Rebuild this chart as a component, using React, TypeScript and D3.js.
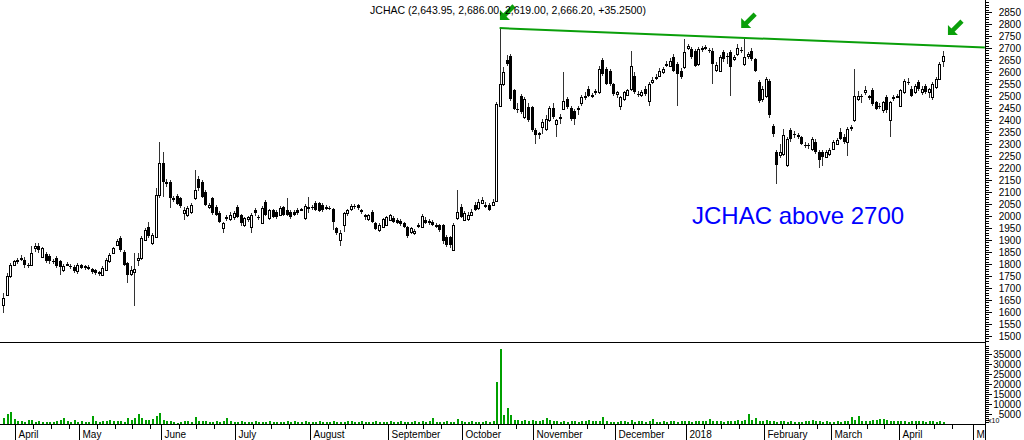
import React from 'react';
import * as d3 from 'd3';

// [open, high, low, close]
const candles: [number, number, number, number][] = [
  [1631,1679,1596,1659],[1672,1762,1665,1749],[1749,1804,1742,1797],[1797,1818,1790,1811],[1811,1825,1800,1815],
  [1825,1838,1812,1818],[1818,1830,1785,1797],[1797,1805,1783,1790],[1797,1873,1790,1845],[1866,1887,1852,1873],
  [1873,1887,1845,1859],[1831,1870,1825,1866],[1842,1850,1805,1811],[1833,1840,1800,1811],[1811,1820,1800,1807],
  [1825,1832,1785,1790],[1811,1815,1755,1787],[1773,1800,1765,1790],[1797,1808,1790,1800],[1790,1800,1780,1787],
  [1787,1795,1762,1769],[1769,1805,1760,1797],[1794,1800,1778,1783],[1790,1797,1776,1783],[1783,1795,1776,1787],
  [1779,1785,1760,1765],[1773,1780,1755,1762],[1765,1772,1750,1760],[1755,1790,1750,1783],[1776,1825,1770,1818],
  [1811,1845,1805,1838],[1845,1870,1840,1866],[1880,1905,1873,1894],[1907,1915,1852,1859],[1852,1859,1790,1797],
  [1804,1810,1721,1755],[1760,1790,1750,1776],[1765,1845,1624,1779],[1818,1845,1790,1825],[1825,1915,1818,1907],
  [1901,1950,1895,1942],[1956,1975,1910,1917],[1887,1930,1880,1921],[1914,2115,1907,2087],[2087,2309,2073,2219],
  [2219,2267,2080,2143],[2136,2156,2122,2143],[2143,2149,2032,2073],[2073,2085,2060,2067],[2083,2090,2045,2050],
  [2073,2080,2035,2042],[2014,2039,1984,2025],[2004,2040,1995,2032],[2018,2053,2010,2046],[2073,2191,2067,2108],
  [2156,2165,2105,2115],[2143,2150,2075,2080],[2101,2110,2040,2046],[2036,2055,2030,2046],[2073,2080,2005,2011],
  [2039,2045,2000,2004],[2011,2020,1970,1977],[1949,1975,1928,1970],[1990,2005,1980,1997],[1986,2015,1980,2004],
  [1995,2020,1985,2011],[2039,2045,1990,1997],[2004,2010,1960,1970],[1963,1995,1955,1990],[1986,2000,1975,1995],
  [1956,2011,1928,2004],[2025,2035,2000,2011],[1995,2005,1985,1990],[1970,2040,1965,2032],[2060,2068,1998,2004],
  [1990,2030,1985,2025],[2025,2030,1990,1995],[2018,2025,1988,1995],[2004,2040,2000,2032],[2036,2040,1998,2004],
  [2025,2073,1998,2004],[2018,2025,1988,1995],[2018,2024,1998,2004],[2025,2032,2005,2011],[2026,2035,2020,2030],
  [1990,2050,1985,2042],[2036,2080,2011,2039],[2039,2045,2025,2036],[2055,2062,2020,2025],[2053,2058,2018,2022],
  [2046,2055,2018,2025],[2032,2045,2025,2039],[2034,2040,2025,2030],[2028,2035,1942,1977],[1949,1955,1920,1928],
  [1901,1942,1873,1928],[1963,2015,1935,2011],[2011,2030,2000,2025],[2028,2050,2020,2042],[2042,2050,2030,2036],
  [2046,2052,2025,2032],[2025,2030,2010,2018],[2004,2010,1985,1995],[1986,2010,1980,2004],[2018,2025,1970,1977],
  [1970,1975,1940,1945],[1942,1970,1935,1963],[1956,1990,1950,1986],[1963,2000,1958,1997],[1984,2008,1978,2004],
  [1990,2000,1972,1977],[1984,1990,1965,1972],[1981,1988,1960,1967],[1970,1975,1948,1953],[1953,1958,1910,1917],
  [1935,1955,1925,1949],[1928,1945,1920,1939],[1963,1972,1950,1956],[1956,2010,1950,2000],[1984,1995,1965,1970],
  [1981,1988,1962,1970],[1977,1982,1958,1963],[1963,1970,1950,1956],[1963,1968,1935,1942],[1963,1968,1885,1894],
  [1914,1920,1870,1880],[1911,1915,1865,1880],[1859,1970,1855,1963],[1990,2108,1984,2018],[2039,2050,1990,1995],
  [1984,2020,1978,2011],[1986,2015,1980,2004],[2004,2030,1998,2018],[2046,2060,2020,2025],[2032,2070,2025,2060],
  [2055,2080,2048,2067],[2046,2060,2035,2046],[2046,2055,2020,2025],[2046,2070,2040,2060],[2062,2475,2058,2468],
  [2460,2783,2453,2550],[2550,2620,2540,2599],[2650,2670,2625,2633],[2668,2675,2480,2488],[2523,2530,2440,2447],
  [2447,2470,2430,2440],[2502,2510,2425,2433],[2412,2495,2405,2488],[2453,2470,2390,2398],[2453,2460,2350,2357],
  [2357,2365,2301,2336],[2340,2350,2320,2345],[2370,2405,2340,2391],[2363,2420,2355,2405],[2398,2460,2390,2451],
  [2451,2470,2405,2412],[2384,2405,2330,2398],[2410,2425,2385,2414],[2447,2599,2440,2481],[2488,2495,2445,2453],
  [2451,2458,2395,2405],[2437,2445,2380,2405],[2447,2460,2420,2451],[2470,2505,2460,2495],[2495,2515,2485,2502],
  [2530,2540,2495,2502],[2500,2512,2490,2504],[2516,2528,2505,2520],[2516,2625,2510,2612],[2650,2660,2585,2592],
  [2612,2620,2545,2550],[2606,2612,2540,2550],[2550,2555,2500,2509],[2508,2520,2490,2515],[2460,2500,2440,2495],
  [2488,2520,2480,2516],[2506,2530,2500,2523],[2530,2689,2520,2626],[2585,2600,2510,2516],[2510,2520,2495,2506],
  [2506,2525,2495,2515],[2530,2540,2500,2509],[2481,2560,2460,2550],[2560,2578,2550,2568],[2575,2590,2565,2580],
  [2585,2615,2578,2606],[2599,2620,2590,2612],[2630,2645,2620,2634],[2626,2660,2620,2647],[2664,2675,2600,2606],
  [2633,2640,2460,2592],[2606,2615,2570,2578],[2620,2737,2612,2682],[2702,2715,2690,2709],[2696,2705,2655,2661],
  [2689,2695,2620,2626],[2633,2705,2625,2696],[2696,2710,2685,2700],[2700,2712,2690,2704],[2690,2700,2680,2686],
  [2689,2700,2550,2633],[2610,2640,2600,2630],[2606,2670,2600,2661],[2682,2690,2640,2654],[2668,2680,2633,2661],
  [2682,2690,2502,2620],[2655,2670,2645,2661],[2675,2716,2665,2702],[2690,2705,2680,2689],[2633,2737,2625,2661],
  [2665,2685,2655,2675],[2689,2700,2645,2654],[2654,2660,2600,2606],[2557,2565,2470,2481],[2488,2540,2475,2530],
  [2502,2580,2490,2571],[2564,2570,2410,2419],[2377,2385,2330,2343],[2267,2275,2135,2211],[2253,2300,2240,2265],
  [2260,2363,2250,2336],[2211,2330,2205,2322],[2357,2365,2310,2322],[2343,2355,2325,2336],[2336,2345,2320,2329],
  [2329,2335,2295,2301],[2296,2310,2285,2294],[2294,2305,2280,2292],[2281,2330,2270,2322],[2308,2320,2260,2267],
  [2267,2275,2200,2232],[2267,2275,2210,2246],[2246,2275,2240,2267],[2260,2285,2250,2274],[2281,2315,2275,2308],
  [2301,2325,2295,2315],[2350,2365,2315,2322],[2329,2340,2300,2308],[2308,2370,2250,2363],[2365,2380,2355,2370],
  [2398,2612,2390,2502],[2488,2520,2480,2502],[2500,2510,2470,2495],[2516,2540,2505,2523],[2495,2505,2485,2500],
  [2523,2535,2460,2467],[2474,2480,2440,2447],[2460,2470,2445,2455],[2440,2480,2430,2474],[2495,2505,2430,2440],
  [2398,2480,2329,2474],[2490,2505,2480,2495],[2495,2510,2490,2502],[2460,2530,2455,2523],[2516,2570,2510,2564],
  [2560,2575,2545,2555],[2530,2540,2495,2502],[2516,2550,2510,2543],[2557,2565,2520,2530],[2516,2540,2505,2530],
  [2543,2550,2510,2516],[2516,2535,2490,2530],[2495,2560,2485,2550],[2537,2580,2530,2571],[2571,2640,2565,2633],
  [2643.95,2686,2619,2666.2],
];

const volumes: number[] = [
  3000,5000,6000,2500,1500,1500,1000,2000,2000,1000,
  1500,1000,1000,1000,1000,1500,2000,3000,1500,1000,
  2000,1000,1500,1000,1000,4000,1500,1000,1500,1500,
  2000,1500,1500,1500,1000,3000,2000,3000,5000,3000,
  2000,2000,2500,4000,5500,2000,1500,1500,1000,500,
  1000,1500,1500,1000,3500,1500,1500,1500,1000,1000,
  1500,1000,1500,3000,1500,1000,1000,1500,1000,1000,
  1000,1500,1000,1000,1000,1500,1000,1000,1000,1000,
  1500,1000,1500,1000,1000,1500,1000,1000,1000,1500,
  1000,1000,1000,1500,1000,1000,1000,1500,1500,1000,
  1000,1500,1000,1000,1000,1500,1000,1000,1000,1500,
  1000,1000,1500,1000,1000,1000,1500,1000,1500,1000,
  1500,3000,1000,1000,1000,1500,1000,1000,2500,1500,
  1000,1000,1500,1000,1000,1000,1500,1000,1500,21000,
  37500,4500,8000,4500,2000,2000,1500,2000,1500,2000,
  1500,1500,2000,3000,2000,1500,1500,1000,1500,1000,
  1500,1500,1000,1500,1500,2000,1500,1500,1500,3500,
  1500,1000,1000,1000,1500,1500,1000,2000,1000,1500,
  1500,1000,1500,2500,1000,1000,1500,1000,1500,1500,
  1000,1500,1500,1500,1000,1500,1500,1500,1500,2500,
  1500,1500,1500,1000,1500,1500,1500,2000,1500,2000,
  5000,2000,3000,1500,1500,2000,1500,1500,1000,1500,
  1500,1000,1500,1000,1000,1000,1500,1500,2000,1500,
  1500,1000,1500,1000,1000,1500,1000,1500,1500,3500,
  2000,4000,1500,1500,1500,2000,2000,2500,2500,2000,
  1500,1500,1500,1500,1500,1000,1500,1500,1500,1500,
  1000,1500,1500,1000,1500,1000,
];

const monthLabels = ['April','May','June','July','August','September','October','November','December','2018','February','March','April','M'];
const monthTickIdx = [3.5, 21.5, 44.5, 65.5, 86.5, 108.5, 129.5, 149.5, 172.5, 192.5, 214.5, 233.5, 252.5, 273.5];

const title = 'JCHAC (2,643.95, 2,686.00, 2,619.00, 2,666.20, +35.2500)';
const note = 'JCHAC above 2700';
const trendLine: [number, number][] = [[140, 2783], [276.8, 2702]];
const arrowTips: [number, number][] = [[140.1, 2817], [208.1, 2783], [266.4, 2754]];

const FONT = '"Liberation Sans", Arial, sans-serif';

export default function App() {
  const W = 1024, H = 440;
  const axisX = 985;
  const sepY = 342;
  const baseY = 424;
  const x = d3.scaleLinear().domain([0, 265]).range([3, 943]);
  const y = d3.scaleLinear().domain([2000, 2850]).range([216, 12]);
  const yv = d3.scaleLinear().domain([0, 35000]).range([baseY, baseY - 70]);

  const priceMinor = d3.range(1480, 2900, 10).filter(p => y(p) > 0 && y(p) < sepY);
  const priceLabels = d3.range(1500, 2851, 50);
  const volMinor = d3.range(1000, 40000, 1000).filter(v => yv(v) > sepY + 1);
  const volLabels = d3.range(5000, 35001, 5000);

  const minorX: number[] = [];
  monthTickIdx.forEach((m, k) => {
    const next = k + 1 < monthTickIdx.length ? monthTickIdx[k + 1] : 277;
    for (let t = m + 5; t < next - 2.5; t += 5) minorX.push(t);
  });

  const green = '#0a9f0a';

  return (
    <div style={{ position: 'absolute', left: 0, top: 0 }}>
      <svg width={W} height={H} style={{ display: 'block', background: '#fff' }} fontFamily={FONT}>
        <rect x={0} y={0} width={W} height={H} fill="#fff" />
        {/* volume bars */}
        {volumes.map((v, i) => {
          const cx = Math.round(x(i));
          const top = Math.round(yv(v));
          return <rect key={'v' + i} x={cx} y={top} width={2} height={Math.max(1, baseY - top)} fill="#00a000" />;
        })}
        {/* candles */}
        {candles.map(([o, h, l, c], i) => {
          const cx = Math.round(x(i));
          const yh = Math.round(y(h)), yl = Math.round(y(l));
          const yt = Math.round(y(Math.max(o, c))), yb = Math.round(y(Math.min(o, c)));
          const up = c >= o;
          return (
            <g key={'c' + i}>
              <line x1={cx + 0.5} x2={cx + 0.5} y1={yh} y2={yl} stroke="#333" strokeWidth={1} />
              {up ? (
                <rect x={cx - 0.5} y={yt + 0.5} width={2} height={Math.max(1, yb - yt)} fill="#fff" stroke="#000" strokeWidth={1} />
              ) : (
                <rect x={cx - 1} y={yt} width={3} height={Math.max(1, yb - yt)} fill="#000" />
              )}
            </g>
          );
        })}
        {/* trend line */}
        <line x1={x(trendLine[0][0])} y1={y(trendLine[0][1])} x2={x(trendLine[1][0])} y2={y(trendLine[1][1])} stroke={green} strokeWidth={2} />
        {/* arrows */}
        {arrowTips.map(([i, p], k) => {
          const tx = x(i), ty = y(p);
          return (
            <g key={'a' + k} transform={`translate(${tx},${ty})`} fill={green}>
              <polygon points="0,0 0,-10 10,0" />
              <line x1={3} y1={-3} x2={14} y2={-14} stroke={green} strokeWidth={4.5} />
            </g>
          );
        })}
        {/* frame */}
        <line x1={0} x2={axisX} y1={sepY + 0.5} y2={sepY + 0.5} stroke="#000" />
        <line x1={axisX + 0.5} x2={axisX + 0.5} y1={0} y2={H} stroke="#000" />
        <line x1={0} x2={axisX} y1={baseY + 0.5} y2={baseY + 0.5} stroke="#000" />
        {/* price axis */}
        {priceMinor.map(p => {
          const yy = Math.round(y(p)) + 0.5;
          const major = p % 50 === 0;
          return <line key={'pm' + p} x1={axisX} x2={axisX + (major ? 7 : 4)} y1={yy} y2={yy} stroke="#000" />;
        })}
        {priceLabels.map(p => (
          <text key={'pl' + p} x={1021} y={y(p)} dy="0.35em" textAnchor="end" fontSize={10} fill="#000">{p}</text>
        ))}
        {/* volume axis */}
        {volMinor.map(v => {
          const yy = Math.round(yv(v)) + 0.5;
          const major = v % 5000 === 0;
          return <line key={'vm' + v} x1={axisX} x2={axisX + (major ? 7 : 4)} y1={yy} y2={yy} stroke="#000" />;
        })}
        {volLabels.map(v => (
          <text key={'vl' + v} x={1021} y={yv(v)} dy="0.35em" textAnchor="end" fontSize={10} fill="#000">{v}</text>
        ))}
        <text x={988} y={423} fontSize={7} fill="#000">x10</text>
        {/* x axis */}
        {minorX.map((t, k) => {
          const xx = Math.round(x(t)) + 0.5;
          return <line key={'mx' + k} x1={xx} x2={xx} y1={baseY} y2={baseY + 5} stroke="#000" />;
        })}
        {monthTickIdx.map((t, k) => {
          const xx = Math.round(x(t)) + 0.5;
          return (
            <g key={'mt' + k}>
              <line x1={xx} x2={xx} y1={baseY} y2={H} stroke="#000" />
              <text x={xx + 3} y={438} fontSize={10} fill="#000">{monthLabels[k]}</text>
            </g>
          );
        })}
        {/* title & note */}
        <text x={508} y={14} textAnchor="middle" fontSize={10.5} fill="#000">{title}</text>
        <text x={692} y={224} fontSize={24} fill="#0000ff">{note}</text>
      </svg>
    </div>
  );
}
